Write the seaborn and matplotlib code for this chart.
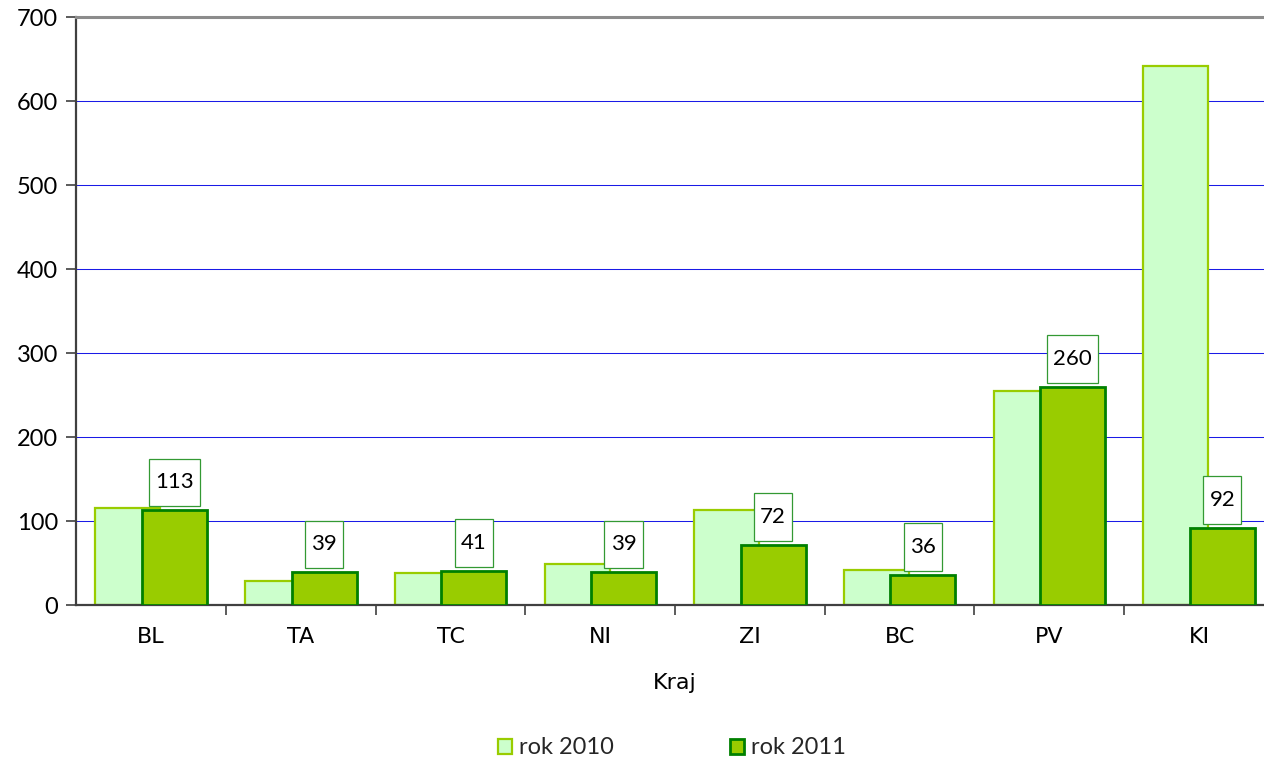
import numpy as np
import matplotlib
matplotlib.use("Agg")
import matplotlib.pyplot as plt
import matplotlib.patches as mpatches
from matplotlib.path import Path
from matplotlib.ticker import FixedLocator
import seaborn as sns

# data
kraje = ["BL", "TA", "TC", "NI", "ZI", "BC", "PV", "KI"]
rok_2010 = [116, 29, 38, 49, 113, 42, 255, 642]
rok_2011 = [113, 39, 41, 39, 72, 36, 260, 92]
y_ticks = [0, 100, 200, 300, 400, 500, 600, 700]

light_fill, light_edge = "#CCFFCC", "#99CC00"
dark_fill, dark_edge = "#99CC00", "#008000"

sns.set_theme(style="white")
plt.rcParams["font.family"] = ["DejaVu Sans"]

fig = plt.figure(figsize=(12.64, 7.6), dpi=100)
ax = fig.add_axes([76.3 / 1264, 1 - 605 / 760, 8 * 149.7 / 1264, 588 / 760])

shift = 0.155
bw = 0.434

sns.barplot(x=kraje, y=rok_2010, color=light_fill, saturation=1, width=bw,
            edgecolor=light_edge, linewidth=1.6, errorbar=None, ax=ax, zorder=2)
n_first = len(ax.patches)
for p in ax.patches:
    p.set_x(p.get_x() - shift)

sns.barplot(x=kraje, y=rok_2011, color=dark_fill, saturation=1, width=bw,
            edgecolor=dark_edge, linewidth=2.0, errorbar=None, ax=ax, zorder=3)
for p in ax.patches[n_first:]:
    p.set_x(p.get_x() + shift)


def tall_box(x0, y0, width, height, mutation_size):
    # box with more vertical than horizontal padding, like the data labels
    px = 0.28 * mutation_size
    py = 0.62 * mutation_size
    x0, x1 = x0 - px, x0 + width + px
    y0, y1 = y0 - py, y0 + height + py
    return Path([(x0, y0), (x1, y0), (x1, y1), (x0, y1), (x0, y0)], closed=True)


for i, v in enumerate(rok_2011):
    ax.annotate(str(v), xy=(i + shift, v), xytext=(0, 20), textcoords="offset points",
                ha="center", va="center", fontsize=16, family=["Lato", "DejaVu Sans"],
                color="black", zorder=5,
                bbox=dict(boxstyle=tall_box, fc="white", ec="#339933", lw=0.9))

ax.set_ylim(0, 700)
ax.set_xlim(-0.5, 7.5)
ax.set_yticks(y_ticks)
ax.set_yticklabels([str(t) for t in y_ticks], family=["Lato", "DejaVu Sans"], fontsize=17)
ax.yaxis.grid(True, color="#1a1ae6", lw=0.75)
ax.set_axisbelow(True)

ax.tick_params(axis="y", which="major", direction="out", length=7, width=1.2,
               color="#404040", left=True, pad=6, labelcolor="black")
ax.tick_params(axis="x", which="major", length=0, pad=16, labelsize=16, labelcolor="black")
ax.xaxis.set_minor_locator(FixedLocator(np.arange(0.5, 7.0, 1.0)))
ax.tick_params(axis="x", which="minor", direction="out", length=7, width=1.2,
               color="#404040", bottom=True)

for s in ["left", "bottom"]:
    ax.spines[s].set_color("#404040")
    ax.spines[s].set_linewidth(1.6)
ax.spines["top"].set_color("#8c8c8c")
ax.spines["top"].set_linewidth(2.2)
ax.spines["right"].set_visible(False)

ax.set_xlabel("Kraj", fontsize=16, color="black")
ax.xaxis.set_label_coords(0.5, -0.115)
ax.set_ylabel("")

handles = [mpatches.Patch(fc=light_fill, ec=light_edge, lw=1.6, label="rok 2010"),
           mpatches.Patch(fc=dark_fill, ec=dark_edge, lw=2.0, label="rok 2011")]
fig.legend(handles=handles, loc="center", bbox_to_anchor=(672 / 1264, 1 - 748 / 760),
           ncol=2, frameon=False, prop={"family": ["Lato", "DejaVu Sans"], "size": 17},
           handlelength=0.6, handleheight=0.6, handletextpad=0.3, columnspacing=4.9)

fig.savefig("out.png", dpi=100)
